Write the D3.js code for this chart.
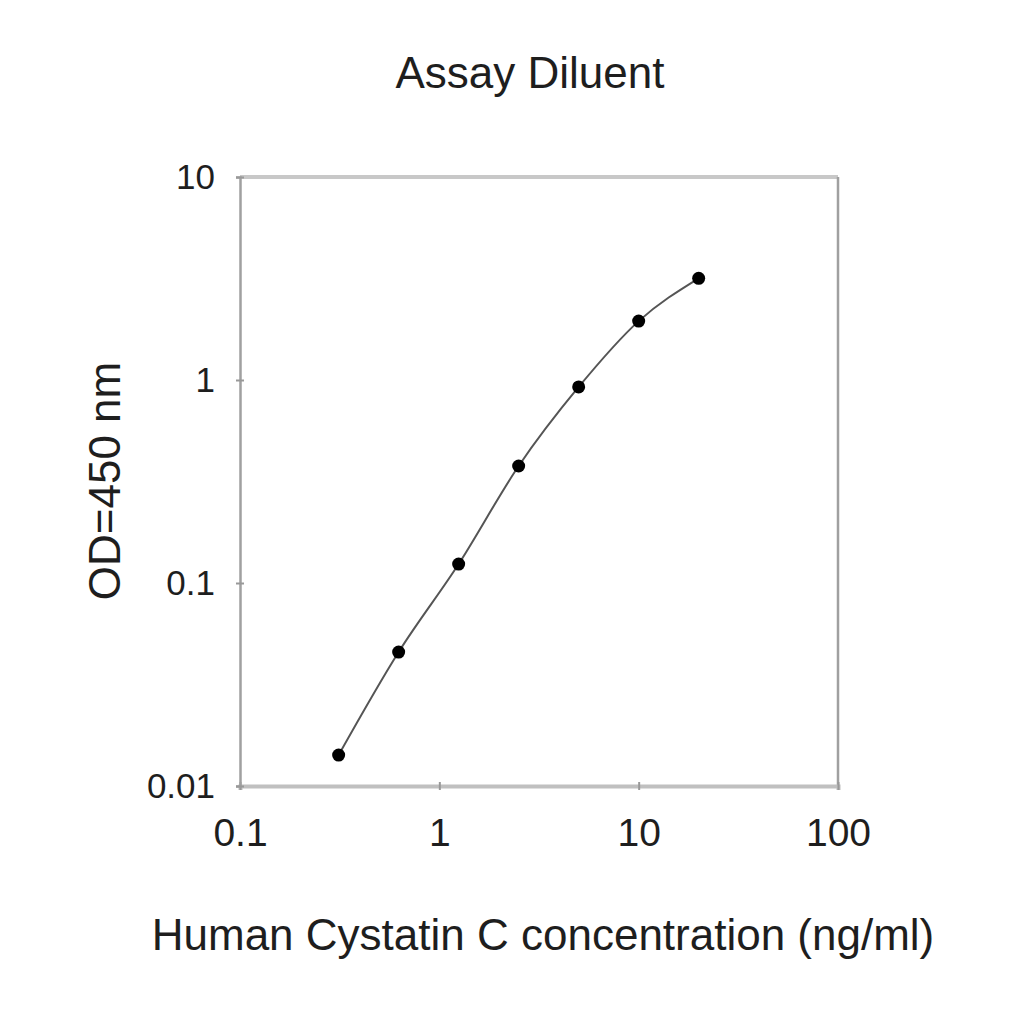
<!DOCTYPE html>
<html>
<head>
<meta charset="utf-8">
<script src="https://cdn.jsdelivr.net/npm/d3@7"></script>
<style>
  body { margin: 0; background: #fff; }
  text { font-family: "Liberation Sans", Arial, sans-serif; fill: #1e1e1e; }
</style>
</head>
<body>
<div id="chart"></div>
<script>
// standard curve, Assay Diluent
const concentrations = [0.3125, 0.625, 1.25, 2.5, 5, 10, 20];
const odValues = [0.0142, 0.0457, 0.124, 0.377, 0.924, 1.95, 3.17];
const xTicks = [0.1, 1, 10, 100];
const yTicks = [0.01, 0.1, 1, 10];

const svg = d3.select("#chart")
  .append("svg")
  .attr("width", 1024)
  .attr("height", 1024);

const margin = { top: 177, right: 186, bottom: 238, left: 240 },
  width = 1024 - margin.left - margin.right,
  height = 1024 - margin.top - margin.bottom;

const g = svg.append("g")
  .attr("transform", `translate(${margin.left},${margin.top})`);

const x = d3.scaleLog().domain([0.1, 100]).range([0, width]);
const y = d3.scaleLog().domain([0.01, 10]).range([height, 0]);

// frame
g.append("line")
  .attr("x1", 0).attr("x2", width).attr("y1", 0).attr("y2", 0)
  .attr("stroke", "#c8c8c8").attr("stroke-width", 4);
g.append("line")
  .attr("x1", width).attr("x2", width).attr("y1", 0).attr("y2", height)
  .attr("stroke", "#a0a0a0").attr("stroke-width", 2.5);

const xAxis = g.append("g")
  .attr("transform", `translate(0,${height})`)
  .call(d3.axisBottom(x).tickValues(xTicks).tickFormat(d3.format("~g")).tickSize(4).tickPadding(28));
xAxis.select(".domain").attr("stroke", "#c0c0c0").attr("stroke-width", 4);
xAxis.selectAll(".tick line").attr("stroke", "#999").attr("stroke-width", 2).attr("y1", -4);
xAxis.selectAll(".tick text").attr("font-size", 39).attr("fill", "#1e1e1e")
  .attr("font-family", "Liberation Sans, Arial, sans-serif");

const yAxis = g.append("g")
  .call(d3.axisLeft(y).tickValues(yTicks).tickFormat(d3.format("~g")).tickSize(4).tickPadding(21));
yAxis.select(".domain").attr("stroke", "#a0a0a0").attr("stroke-width", 2.5);
yAxis.selectAll(".tick line").attr("stroke", "#999").attr("stroke-width", 2).attr("x1", 4);
yAxis.selectAll(".tick text").attr("font-size", 35).attr("fill", "#1e1e1e")
  .attr("font-family", "Liberation Sans, Arial, sans-serif");

// fitted curve through the points
const line = d3.line()
  .x(d => x(d[0]))
  .y(d => y(d[1]))
  .curve(d3.curveMonotoneX);

const pts = concentrations.map((c, i) => [c, odValues[i]]);

g.append("path")
  .datum(pts)
  .attr("fill", "none")
  .attr("stroke", "#555")
  .attr("stroke-width", 2)
  .attr("d", line);

g.selectAll("circle")
  .data(pts)
  .enter()
  .append("circle")
  .attr("cx", d => x(d[0]))
  .attr("cy", d => y(d[1]))
  .attr("r", 6.5)
  .attr("fill", "#000");

// titles
svg.append("text")
  .attr("x", 530).attr("y", 88)
  .attr("text-anchor", "middle")
  .attr("font-size", 44)
  .text("Assay Diluent");

svg.append("text")
  .attr("x", 543).attr("y", 950)
  .attr("text-anchor", "middle")
  .attr("font-size", 44)
  .text("Human Cystatin C concentration (ng/ml)");

svg.append("text")
  .attr("transform", "translate(120,481) rotate(-90)")
  .attr("text-anchor", "middle")
  .attr("font-size", 44)
  .text("OD=450 nm");
</script>
</body>
</html>
